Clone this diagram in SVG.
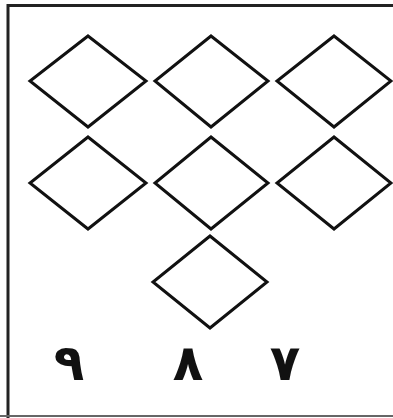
<svg xmlns="http://www.w3.org/2000/svg" width="393" height="418" viewBox="0 0 393 418">
<style>
.d{fill:#fff;stroke:#111;stroke-width:3;stroke-linejoin:miter}
.f{fill:none;stroke:#222;stroke-width:3}
.n{font-family:"DejaVu Sans",sans-serif;font-size:50px;font-weight:bold;fill:#111;text-anchor:middle}
</style>
<rect width="393" height="418" fill="#fff"/>
<path class="f" d="M8,418 V5.5 H393"/>
<path d="M0,416 H393" stroke="#666" stroke-width="2"/>
<g id="d1"><polygon class="d" points="88,36 146,81 88,127 30,81"/></g>
<g id="d2"><polygon class="d" points="211,36 268,81 211,127 155,81"/></g>
<g id="d3"><polygon class="d" points="334,36 391,81 334,127 277,81"/></g>
<g id="d4"><polygon class="d" points="88,137 146,183 88,229 30,183"/></g>
<g id="d5"><polygon class="d" points="211,137 268,183 211,229 155,183"/></g>
<g id="d6"><polygon class="d" points="334,137 391,183 334,229 277,183"/></g>
<g id="d7"><polygon class="d" points="210,236 267,282 210,328 153,282"/></g>
<g id="connectors"></g>
<text class="n" x="69" y="380">٩</text>
<text class="n" x="188" y="380">٨</text>
<text class="n" x="285" y="380">٧</text>
</svg>
